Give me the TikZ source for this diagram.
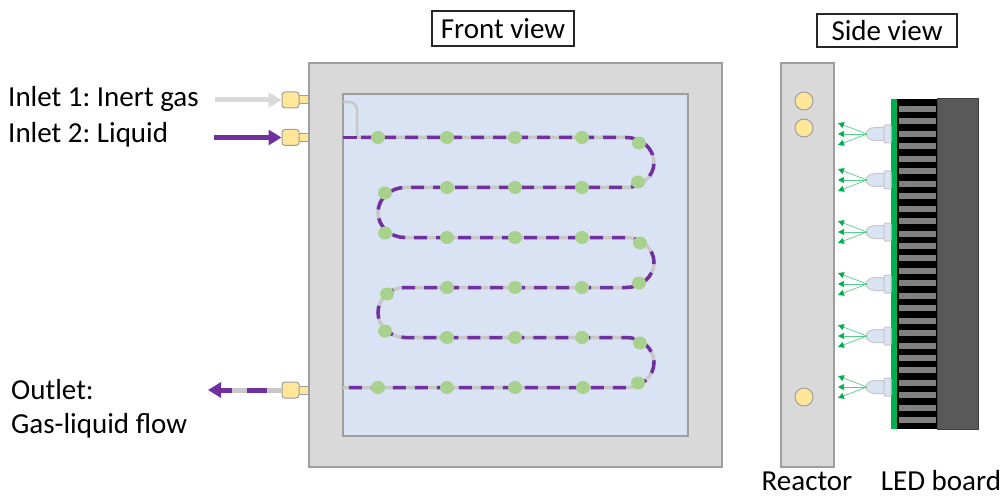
\documentclass[tikz,border=0pt]{standalone}
\usepackage{fontspec}
\setmainfont{Carlito}
\usetikzlibrary{arrows.meta}
\frenchspacing

\definecolor{plate}{HTML}{D9D9D9}
\definecolor{edge}{HTML}{9E9E9E}
\definecolor{window}{HTML}{DAE3F3}
\definecolor{liquid}{HTML}{7030A0}
\definecolor{gasline}{HTML}{C8C8C8}
\definecolor{gasfeed}{HTML}{D9D9D9}
\definecolor{brass}{HTML}{FFE699}
\definecolor{drop}{HTML}{A9D18E}
\definecolor{ledgreen}{HTML}{00B050}
\definecolor{fin}{HTML}{808080}
\definecolor{sink}{HTML}{595959}

\begin{document}
\begin{tikzpicture}[x=1pt,y=-1pt,
  txt/.style={font=\fontsize{29}{35}\selectfont,inner sep=0pt},
  viewbox/.style={txt,draw=black!85,line width=1.2pt},
  fitting/.style={fill=brass,draw=edge,line width=1pt,rounded corners=3pt,
    minimum width=17pt,minimum height=16pt,inner sep=0pt},
  feed/.style={line width=5pt,-{Triangle[length=13pt,width=15pt]}},
  chbase/.style={gasline,line width=3.5pt},
  chdash/.style={liquid,line width=3.5pt,dash pattern=on 13pt off 9pt,dash phase=18pt},
  ledbody/.style={fill=window,draw=gasline,line width=1pt},
  beam/.style={ledgreen!65,line width=0.7pt,-{Triangle[length=6pt,width=6pt,color=ledgreen]}}]
  \useasboundingbox (0,0) rectangle (1003,497);

  % front view: plate and window
  \draw[fill=plate,draw=edge,line width=1.5pt] (309,63) rectangle (722,467);
  \draw[fill=window,draw=edge,line width=1.5pt] (343,94) rectangle (688,436);

  % gas feed joins the channel
  \draw[gasline,line width=2.5pt] (343,102) -- (349,102)
    arc[start angle=-90,end angle=0,radius=8] -- (357,137.5);
  \draw[liquid,line width=3.5pt] (343,137.5) -- (357,137.5);

  % serpentine channel
  \foreach \s in {chbase,chdash}
    \draw[\s] (357,137.5) -- (626,137.5)
      arc[start angle=-90,end angle=90,x radius=28,y radius=25] -- (405,187.5)
      arc[start angle=270,end angle=90,x radius=27,y radius=25] -- (626,237.5)
      arc[start angle=-90,end angle=90,x radius=28,y radius=25] -- (405,287.5)
      arc[start angle=270,end angle=90,x radius=27,y radius=25] -- (626,337.5)
      arc[start angle=-90,end angle=90,x radius=28,y radius=25] -- (343,387.5);

  % liquid slugs
  \foreach \x/\y in {378/137.5,447/137.5,515/137.5,582/137.5,639/143,
      638/182,582/187.5,515/187.5,447/187.5,385/193,
      385/233,447/237.5,515/237.5,582/237.5,640/243,
      639/283,582/287.5,515/287.5,447/287.5,387/294,
      385/331,447/337.5,515/337.5,582/337.5,640/343,
      638/383,583/387.5,515/387.5,447/387.5,378/387.5}
    \fill[drop] (\x,\y) ellipse[x radius=7,y radius=6.5];

  % fittings
  \foreach \y in {100,137.5,390}
    \draw[fill=brass,draw=edge,line width=1pt] (298,\y-4) rectangle (308,\y+4);
  \node[fitting] (in1) at (290.5,100) {};
  \node[fitting] (in2) at (290.5,137.5) {};
  \node[fitting] (outl) at (290.5,390) {};

  % feeds and outlet
  \coordinate (gasin) at (215,100);
  \coordinate (liqin) at (214,137.5);
  \coordinate (flow) at (208,390);
  \draw[feed,gasfeed] (gasin) -- (in1.west);
  \draw[feed,liquid] (liqin) -- (in2.west);
  \draw[gasline,line width=5pt] (outl.west) -- (222,390);
  \draw[feed,liquid,dash pattern=on 20pt off 15pt,dash phase=20pt] (outl.west) -- (flow);

  \node[txt,anchor=base west] (in1txt) at (8,107) {Inlet 1: Inert gas};
  \node[txt,anchor=base west] (in2txt) at (8,143) {Inlet 2: Liquid};
  \node[txt,anchor=base west] (outtxt) at (11,399) {Outlet:};
  \node[txt,anchor=base west] (flowtxt) at (11,433) {Gas-liquid flow};

  % side view: reactor
  \draw[fill=plate,draw=edge,line width=1.5pt] (781,63) rectangle (834,467);
  \foreach \y in {101,128,397}
    \draw[fill=brass,draw=edge,line width=1pt] (804,\y) circle (9);

  % LED board with heat sink
  \fill[ledgreen] (891,99) rectangle (897,429);
  \fill[black] (897,99) rectangle (937,429);
  \foreach \k in {0,...,25}
    \fill[fin] (899,106+12.45*\k) rectangle (936,112+12.45*\k);
  \draw[fill=sink,draw=black!75,line width=1pt] (937,99) rectangle (978,429);

  \foreach \y in {134,180,232,284,336,387} {
    \draw[ledbody] (884,\y-6.5) -- (875,\y-6.5)
      arc[start angle=-90,end angle=-270,x radius=9,y radius=6.5] -- (884,\y+6.5) -- cycle;
    \draw[ledbody,rounded corners=1pt] (884,\y-9) rectangle (891,\y+9);
    \foreach \d in {-11,0,11}
      \draw[beam] (867,\y) -- (838,\y+\d);
  }

  \node[viewbox,minimum width=142pt,minimum height=35pt] (front) at (503,28.5) {Front view};
  \node[viewbox,minimum width=140pt,minimum height=33pt] (side) at (887,30.5) {Side view};
  \node[txt,anchor=base] (reactor) at (807,490) {Reactor};
  \node[txt,anchor=base] (board) at (941,490) {LED board};
\end{tikzpicture}
\end{document}
